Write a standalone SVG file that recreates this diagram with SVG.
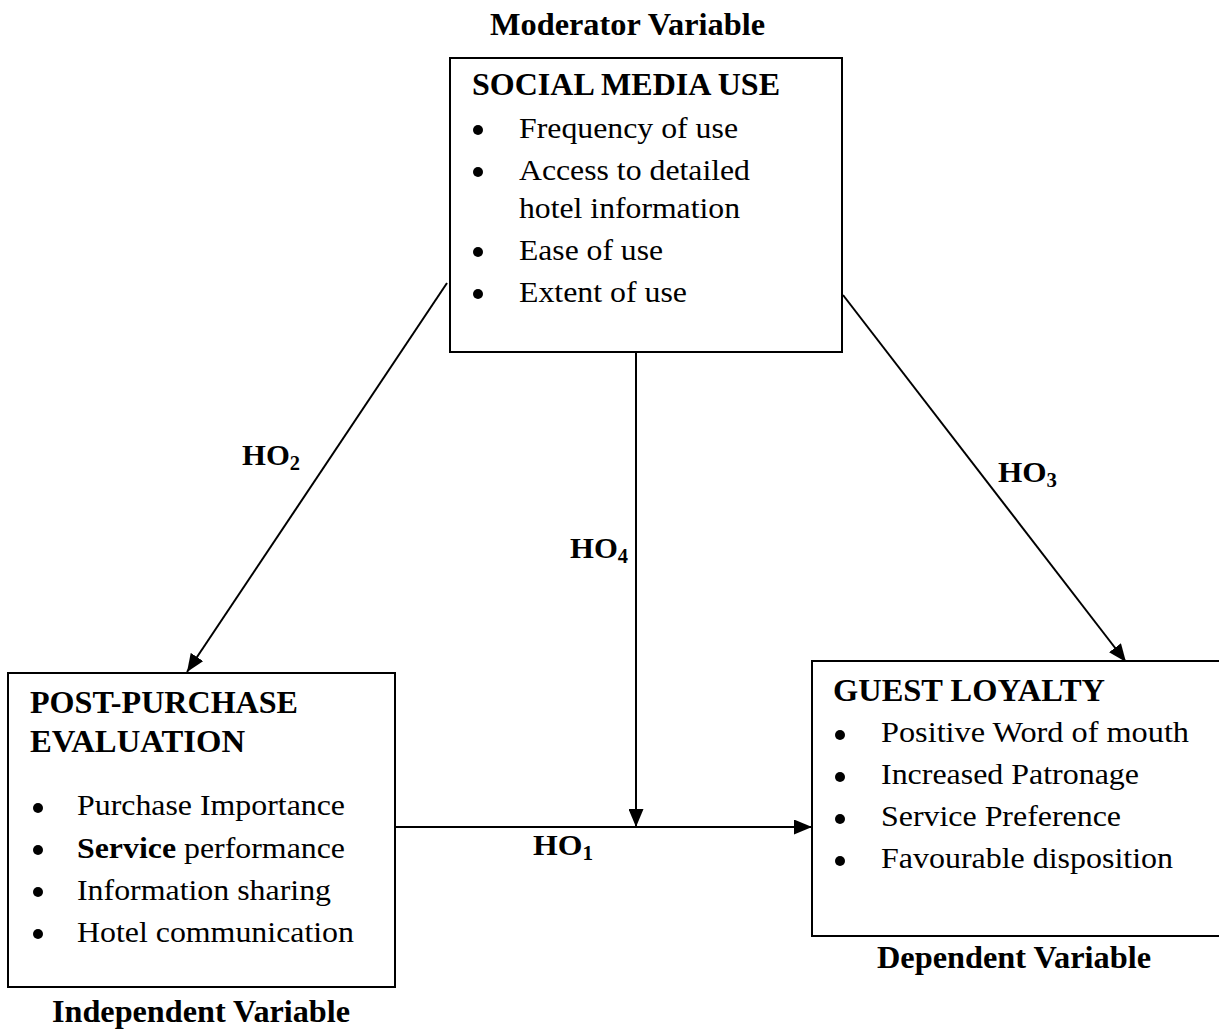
<svg xmlns="http://www.w3.org/2000/svg" width="1219" height="1031" viewBox="0 0 1219 1031" font-family="'Liberation Serif', 'Times New Roman', Times, serif">
<style>
text{font-family:'Liberation Serif','Times New Roman',Times,serif;fill:#000}
.h{font-weight:bold;font-size:32px}
.t{font-size:30px}
.lab{font-weight:bold;font-size:30px}
.sub{font-weight:bold;font-size:20px}
.box{fill:#fff;stroke:#000;stroke-width:2}
.ln{stroke:#000;stroke-width:2;fill:none}
.dot{fill:#000}
</style>
<defs>
<marker id="ah" markerUnits="userSpaceOnUse" markerWidth="19" markerHeight="15" refX="18" refY="7.5" orient="auto">
<path d="M0,0 L18,7.5 L0,15 z" fill="#000"/>
</marker>
</defs>
<g id="connectors">
<line class="ln" x1="447" y1="283" x2="187" y2="672" marker-end="url(#ah)"/>
<line class="ln" x1="843" y1="295" x2="1126" y2="662" marker-end="url(#ah)"/>
<line class="ln" x1="636" y1="352" x2="636" y2="827" marker-end="url(#ah)"/>
<line class="ln" x1="395" y1="827" x2="812" y2="827" marker-end="url(#ah)"/>
<text class="lab" x="242" y="465" textLength="58" lengthAdjust="spacingAndGlyphs">HO<tspan class="sub" dy="5">2</tspan></text>
<text class="lab" x="570" y="558" textLength="58" lengthAdjust="spacingAndGlyphs">HO<tspan class="sub" dy="5">4</tspan></text>
<text class="lab" x="998" y="482" textLength="59" lengthAdjust="spacingAndGlyphs">HO<tspan class="sub" dy="5">3</tspan></text>
<text class="lab" x="533" y="855" textLength="60" lengthAdjust="spacingAndGlyphs">HO<tspan class="sub" dy="5">1</tspan></text>
</g>
<g id="social-media-use">
<text class="h" x="490" y="35" textLength="275" lengthAdjust="spacingAndGlyphs">Moderator Variable</text>
<rect class="box" x="450" y="58" width="392" height="294"/>
<text class="h" x="472" y="95" textLength="308" lengthAdjust="spacingAndGlyphs">SOCIAL MEDIA USE</text>
<circle class="dot" cx="478" cy="130" r="5"/>
<circle class="dot" cx="478" cy="172" r="5"/>
<circle class="dot" cx="478" cy="252" r="5"/>
<circle class="dot" cx="478" cy="294" r="5"/>
<text class="t" x="519" y="138" textLength="219" lengthAdjust="spacingAndGlyphs">Frequency of use</text>
<text class="t" x="519" y="180" textLength="231" lengthAdjust="spacingAndGlyphs">Access to detailed</text>
<text class="t" x="519" y="218" textLength="221" lengthAdjust="spacingAndGlyphs">hotel information</text>
<text class="t" x="519" y="260" textLength="144" lengthAdjust="spacingAndGlyphs">Ease of use</text>
<text class="t" x="519" y="302" textLength="168" lengthAdjust="spacingAndGlyphs">Extent of use</text>
</g>
<g id="post-purchase-evaluation">
<rect class="box" x="8" y="673" width="387" height="314"/>
<text class="h" x="30" y="713" textLength="268" lengthAdjust="spacingAndGlyphs">POST-PURCHASE</text>
<text class="h" x="30" y="752" textLength="215" lengthAdjust="spacingAndGlyphs">EVALUATION</text>
<circle class="dot" cx="38" cy="808" r="5"/>
<circle class="dot" cx="38" cy="850" r="5"/>
<circle class="dot" cx="38" cy="892" r="5"/>
<circle class="dot" cx="38" cy="934" r="5"/>
<text class="t" x="77" y="815" textLength="268" lengthAdjust="spacingAndGlyphs">Purchase Importance</text>
<text class="t" x="77" y="858" textLength="268" lengthAdjust="spacingAndGlyphs"><tspan font-weight="bold">Service</tspan> performance</text>
<text class="t" x="77" y="900" textLength="254" lengthAdjust="spacingAndGlyphs">Information sharing</text>
<text class="t" x="77" y="942" textLength="277" lengthAdjust="spacingAndGlyphs">Hotel communication</text>
<text class="h" x="52" y="1022" textLength="298" lengthAdjust="spacingAndGlyphs">Independent Variable</text>
</g>
<g id="guest-loyalty">
<rect class="box" x="812" y="661" width="420" height="275"/>
<text class="h" x="833" y="701" textLength="272" lengthAdjust="spacingAndGlyphs">GUEST LOYALTY</text>
<circle class="dot" cx="840" cy="735" r="5"/>
<circle class="dot" cx="840" cy="777" r="5"/>
<circle class="dot" cx="840" cy="819" r="5"/>
<circle class="dot" cx="840" cy="861" r="5"/>
<text class="t" x="881" y="742" textLength="308" lengthAdjust="spacingAndGlyphs">Positive Word of mouth</text>
<text class="t" x="881" y="784" textLength="258" lengthAdjust="spacingAndGlyphs">Increased Patronage</text>
<text class="t" x="881" y="826" textLength="240" lengthAdjust="spacingAndGlyphs">Service Preference</text>
<text class="t" x="881" y="868" textLength="292" lengthAdjust="spacingAndGlyphs">Favourable disposition</text>
<text class="h" x="877" y="968" textLength="274" lengthAdjust="spacingAndGlyphs">Dependent Variable</text>
</g>
</svg>
